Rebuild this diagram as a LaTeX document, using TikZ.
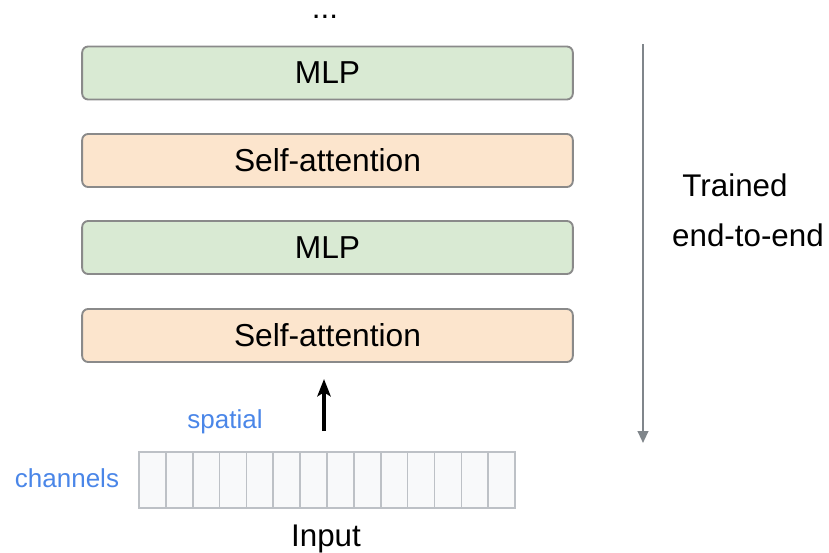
\documentclass[tikz,border=0pt]{standalone}
\usepackage{fontspec}
\setmainfont{Liberation Sans}
\definecolor{mlpfill}{HTML}{D9EAD3}
\definecolor{safill}{HTML}{FCE5CD}
\definecolor{boxline}{HTML}{8A8A8A}
\definecolor{cellfill}{HTML}{F8F9FA}
\definecolor{cellline}{HTML}{BDC1C6}
\definecolor{bluetxt}{HTML}{4A86E8}
\definecolor{grayarrow}{HTML}{80868B}
\usetikzlibrary{arrows.meta}
\begin{document}
\begin{tikzpicture}[x=0.75pt,y=-0.75pt,
  layer/.style={draw=boxline, line width=1.4pt, rounded corners=4.5pt, minimum width=368pt, minimum height=39.75pt, font=\fontsize{23.8}{27}\selectfont, inner sep=0pt},
  mlp/.style={layer, fill=mlpfill},
  sa/.style={layer, fill=safill},
  cell/.style={draw=cellline, fill=cellfill, line width=1.2pt, minimum width=20.14pt, minimum height=42pt, inner sep=0pt},
  bigtxt/.style={font=\fontsize{23.5}{27}\selectfont, inner sep=0pt},
  smalltxt/.style={font=\fontsize{19.5}{23}\selectfont, text=bluetxt, inner sep=0pt}]
\useasboundingbox (0,0) rectangle (829,553);
\node[bigtxt] (dots) at (325,17) {...};
\node[mlp] (mlp1) at (327.5,73) {MLP};
\node[sa] (sa1) at (327.5,160.5) {Self-attention};
\node[mlp] (mlp2) at (327.5,247.5) {MLP};
\node[sa] (sa2) at (327.5,335.5) {Self-attention};
\coordinate (arrS) at (324,431);
\coordinate (arrE) at (324,379);
\draw[-{Stealth[length=13pt,width=10pt,inset=3pt]}, line width=2.6pt] (arrS) -- (arrE);
\foreach \i in {0,...,13} {
  \node[cell] (c\i) at ({139+26.86*\i+13.43},480) {};
}
\node[smalltxt] (spatial) at (225,422) {spatial};
\node[smalltxt] (channels) at (67,478) {channels};
\node[bigtxt] (input) at (326,539) {Input};
\coordinate (gS) at (643,44);
\coordinate (gE) at (643,443);
\draw[grayarrow, line width=1.5pt, -{Triangle[length=9pt,width=8pt]}] (gS) -- (gE);
\node[bigtxt, anchor=base] (trained) at (735,196) {Trained};
\node[bigtxt, anchor=base] (e2e) at (748,246) {end-to-end};
\end{tikzpicture}
\end{document}
